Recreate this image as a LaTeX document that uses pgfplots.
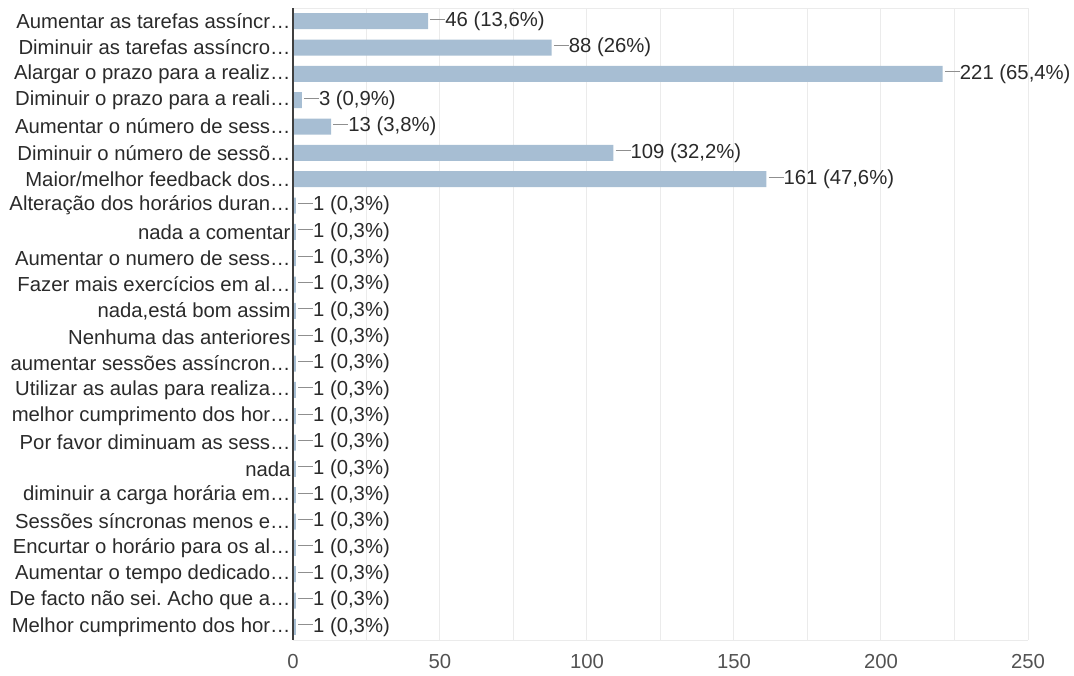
\documentclass[border=0pt]{standalone}
\usepackage{fontspec}
\setmainfont{Liberation Sans}
\usepackage{pgfplots}
\pgfplotsset{compat=1.18}
\frenchspacing
\definecolor{barc}{HTML}{A7BED3}
\definecolor{gridc}{HTML}{EBEBEB}
\definecolor{txt}{HTML}{2A2A2A}
\definecolor{lead}{HTML}{8F8F8F}
\begin{document}
\begin{tikzpicture}
\useasboundingbox (-293pt,-35pt) rectangle (781pt,640pt);
\begin{axis}[
  at={(0pt,0pt)}, anchor=south west,
  scale only axis, width=735pt, height=632pt,
  xbar, bar width=16pt,
  xmin=0, xmax=250,
  ymin=-0.5, ymax=23.5, y dir=reverse,
  xtick={0,50,...,250},
  minor xtick={25,75,...,225},
  xmajorgrids, xminorgrids,
  major grid style={gridc, line width=1pt},
  minor grid style={gridc, line width=1pt},
  axis line style={draw=none},
  major tick length=0pt, minor tick length=0pt,
  /pgf/number format/assume math mode=true,
  ytick={0,...,23},
  yticklabels={
    {Aumentar as tarefas assíncr…},
    {Diminuir as tarefas assíncro…},
    {Alargar o prazo para a realiz…},
    {Diminuir o prazo para a reali…},
    {Aumentar o número de sess…},
    {Diminuir o número de sessõ…},
    {Maior/melhor feedback dos…},
    {Alteração dos horários duran…},
    {nada a comentar},
    {Aumentar o numero de sess…},
    {Fazer mais exercícios em al…},
    {nada,está bom assim},
    {Nenhuma das anteriores},
    {aumentar sessões assíncron…},
    {Utilizar as aulas para realiza…},
    {melhor cumprimento dos hor…},
    {Por favor diminuam as sess…},
    {nada},
    {diminuir a carga horária em…},
    {Sessões síncronas menos e…},
    {Encurtar o horário para os al…},
    {Aumentar o tempo dedicado…},
    {De facto não sei. Acho que a…},
    {Melhor cumprimento dos hor…}},
  yticklabel style={font=\fontsize{20.3}{23}\selectfont, text=txt, xshift=1pt},
  xticklabel style={font=\fontsize{20.3}{23}\selectfont, text=black!68, yshift=-11pt},
  point meta=explicit symbolic,
  nodes near coords={\textcolor{lead}{\rule[0.33em]{15pt}{1pt}}\pgfplotspointmeta},
  nodes near coords align={horizontal},
  every node near coord/.append style={font=\fontsize{20.3}{23}\selectfont, text=txt, anchor=west, inner sep=0pt, xshift=2pt},
  clip=false,
]
\draw[gridc, line width=1pt] (rel axis cs:0,0) -- (rel axis cs:1,0);
\draw[gridc, line width=1pt] (rel axis cs:0,1) -- (rel axis cs:1,1);
\addplot[fill=barc, draw=none] coordinates {
(46,0) [46 (13,6\%)]
(88,1) [88 (26\%)]
(221,2) [221 (65,4\%)]
(3,3) [3 (0,9\%)]
(13,4) [13 (3,8\%)]
(109,5) [109 (32,2\%)]
(161,6) [161 (47,6\%)]
(1,7) [1 (0,3\%)]
(1,8) [1 (0,3\%)]
(1,9) [1 (0,3\%)]
(1,10) [1 (0,3\%)]
(1,11) [1 (0,3\%)]
(1,12) [1 (0,3\%)]
(1,13) [1 (0,3\%)]
(1,14) [1 (0,3\%)]
(1,15) [1 (0,3\%)]
(1,16) [1 (0,3\%)]
(1,17) [1 (0,3\%)]
(1,18) [1 (0,3\%)]
(1,19) [1 (0,3\%)]
(1,20) [1 (0,3\%)]
(1,21) [1 (0,3\%)]
(1,22) [1 (0,3\%)]
(1,23) [1 (0,3\%)]
};
\draw[black!75, line width=1.5pt] (rel axis cs:0,0) -- (rel axis cs:0,1);
\end{axis}
\end{tikzpicture}
\end{document}
